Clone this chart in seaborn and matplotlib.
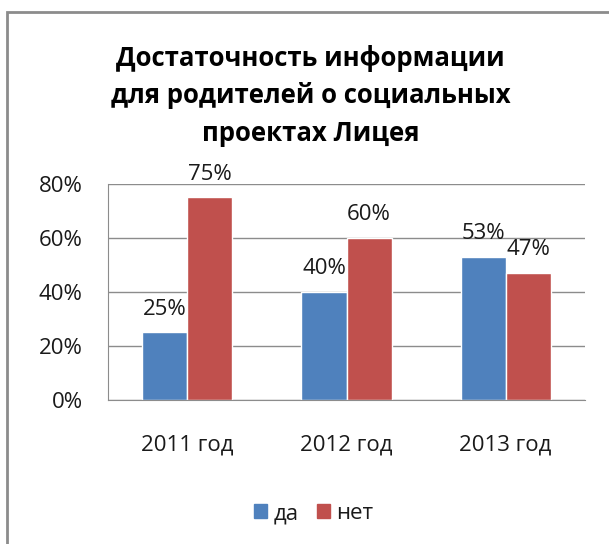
import pandas as pd
import matplotlib.pyplot as plt
import seaborn as sns
from matplotlib.patches import Rectangle

years = ["2011 год", "2012 год", "2013 год"]
yes_vals = [25, 40, 53]
no_vals = [75, 60, 47]
series = ["да", "нет"]

df = pd.DataFrame({
    "year": years * 2,
    "value": yes_vals + no_vals,
    "answer": [series[0]] * 3 + [series[1]] * 3,
})

sns.set_style("white")
plt.rcParams["font.family"] = ["Open Sans", "DejaVu Sans"]
txt = "#1a1a1a"

fig = plt.figure(figsize=(6.09, 5.44), dpi=100)
ax = fig.add_axes([0.177, 0.265, 0.784, 0.397])

sns.barplot(data=df, x="year", y="value", hue="answer",
            palette=["#4F81BD", "#C0504D"], width=0.566, saturation=1,
            ax=ax, legend=False)

for cont in ax.containers:
    ax.bar_label(cont, labels=[f"{int(v)}%" for v in cont.datavalues],
                 padding=9, fontsize=16, color=txt)

ax.set_ylim(0, 80)
ax.set_yticks([0, 20, 40, 60, 80])
ax.set_yticklabels([f"{t}%" for t in [0, 20, 40, 60, 80]], fontsize=16, color=txt)
ax.tick_params(axis="x", labelsize=16, pad=25, length=0, labelcolor=txt)
ax.tick_params(axis="y", pad=18, length=0)
ax.set_xlabel("")
ax.set_ylabel("")
ax.yaxis.grid(True, color="#8c8c8c", linewidth=1)
ax.set_axisbelow(True)
for s in ["top", "right"]:
    ax.spines[s].set_visible(False)
for s in ["left", "bottom"]:
    ax.spines[s].set_color("#8c8c8c")

fig.text(0.51, 0.824,
         "Достаточность информации\nдля родителей о социальных\nпроектах Лицея",
         ha="center", va="center", fontsize=18.5, fontweight="bold",
         linespacing=1.5, color="black")

handles = [Rectangle((0, 0), 1, 1, color=c) for c in ["#4F81BD", "#C0504D"]]
fig.legend(handles, series, loc="center", bbox_to_anchor=(0.515, 0.056),
           ncol=2, frameon=False, fontsize=16, handlelength=0.6,
           handleheight=0.6, handletextpad=0.3, columnspacing=0.8,
           labelcolor=txt)

fig.patches.append(Rectangle((0.011, -0.05), 1.2, 1.028, transform=fig.transFigure,
                             fill=False, edgecolor="#8c8c8c", linewidth=2))

fig.savefig("out.png", dpi=100)
